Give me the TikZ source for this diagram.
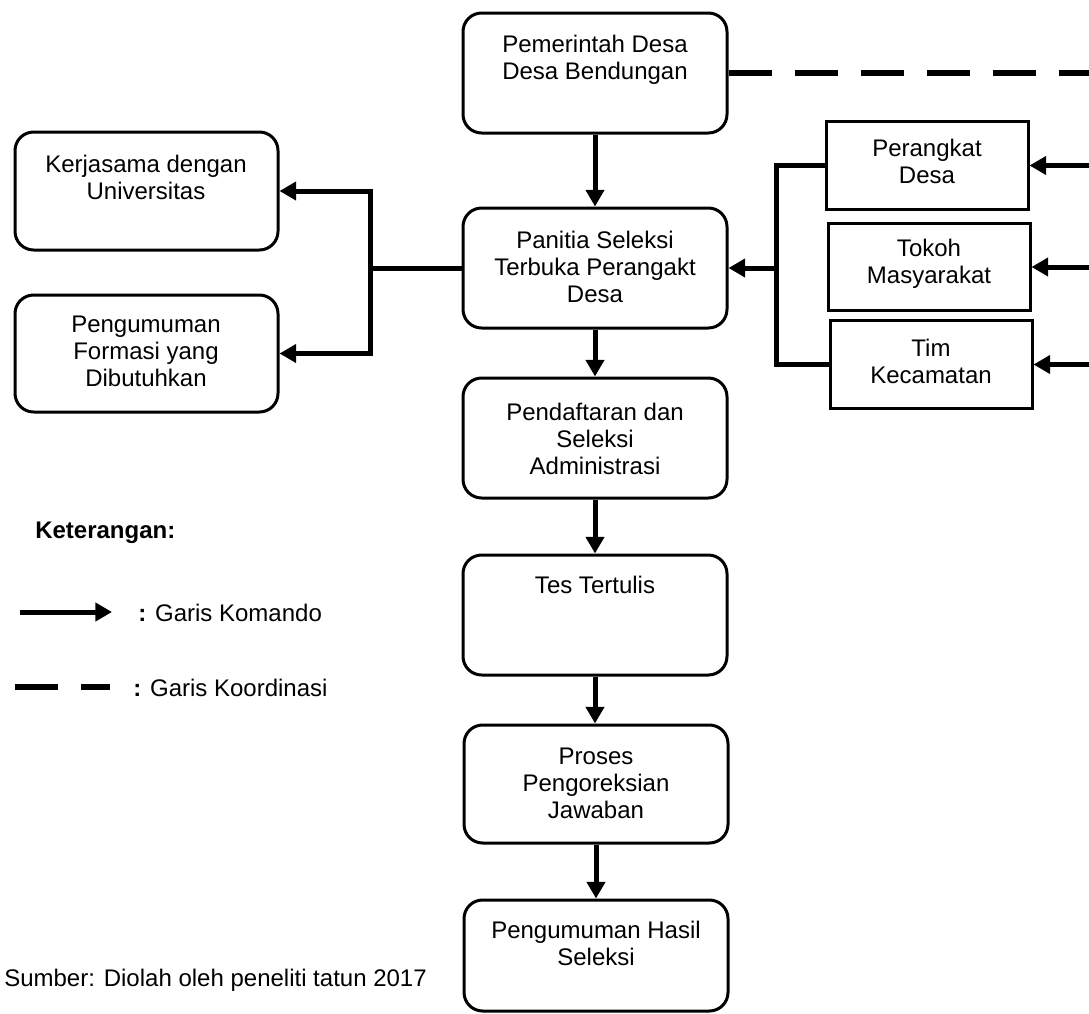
\documentclass[tikz,border=0pt]{standalone}
\usepackage{fontspec}
\setmainfont{Liberation Sans}
\usetikzlibrary{arrows.meta}
\begin{document}
\begin{tikzpicture}[x=0.75pt,y=-0.75pt,
  font=\fontsize{18pt}{20.25pt}\selectfont,
  rbox/.style={draw, line width=2.25pt, rounded corners=14pt, minimum width=198pt, inner sep=0pt},
  lbox/.style={draw, line width=2.25pt, rounded corners=14pt, minimum width=197.25pt, inner sep=0pt},
  sbox/.style={draw, line width=2.25pt, minimum width=151.5pt, minimum height=65.5pt, inner sep=0pt},
  txt/.style={align=center, inner sep=0pt},
  cmd/.style={line width=3.75pt, -{Triangle[length=12.5pt,width=13.5pt]}},
  link/.style={line width=3.75pt},
  koord/.style={line width=4.5pt, dash pattern=on 32.25pt off 17.25pt},
]
\useasboundingbox (0,0) rectangle (1089,1014);

% middle column boxes
\node[rbox, minimum height=90pt] (top) at (595,73) {};
\node[rbox, minimum height=90pt] (pan) at (595,268) {};
\node[rbox, minimum height=90pt] (daftar) at (595,438) {};
\node[rbox, minimum height=90pt] (tes) at (595,615) {};
\node[rbox, minimum height=88.5pt] (proses) at (596,784) {};
\node[rbox, minimum height=83.25pt] (hasil) at (596,955.5) {};

\node[txt] (top-t) at (595,60) {Pemerintah Desa\\Desa Bendungan};
\node[txt] (pan-t) at (595,267) {Panitia Seleksi\\Terbuka Perangakt\\Desa};
\node[txt] (daftar-t) at (595,439) {Pendaftaran dan\\Seleksi\\Administrasi};
\node[txt] (tes-t) at (595,585) {Tes Tertulis};
\node[txt] (proses-t) at (596,783) {Proses\\Pengoreksian\\Jawaban};
\node[txt] (hasil-t) at (596,943.5) {Pengumuman Hasil\\Seleksi};

% left boxes
\node[lbox, minimum height=88.5pt] (kerja) at (146.5,191) {};
\node[lbox, minimum height=87.75pt] (formasi) at (146.5,353.5) {};
\node[txt] (kerja-t) at (146,177) {Kerjasama dengan\\Universitas};
\node[txt] (formasi-t) at (146,351) {Pengumuman\\Formasi yang\\Dibutuhkan};

% right boxes
\node[sbox] (perangkat) at (927,165.5) {};
\node[sbox] (tokoh) at (929,267) {};
\node[sbox] (tim) at (931,364.5) {};
\node[txt] (perangkat-t) at (927,161) {Perangkat\\Desa};
\node[txt] (tokoh-t) at (929,264) {Tokoh\\Masyarakat};
\node[txt] (tim-t) at (931,361) {Tim\\Kecamatan};

% vertical flow
\draw[cmd] (top) -- (pan);
\draw[cmd] (pan) -- (daftar);
\draw[cmd] (daftar) -- (tes);
\draw[cmd] (tes.south) -- (tes.south |- proses.north);
\draw[cmd] (proses) -- (hasil);

% left branch
\coordinate (jl) at (370,268);
\draw[link] (pan.west) -- (jl);
\draw[cmd] (jl) |- (kerja.east);
\draw[cmd] (jl) |- (formasi.east);

% right branch
\coordinate (jr) at (776,268);
\draw[link] (perangkat.west) -| (jr) |- (tim.west);
\draw[cmd] (jr) -- (pan.east);

% incoming from the right edge
\coordinate (edge) at (1089,0);
\draw[cmd] (perangkat.east -| edge) -- (perangkat.east);
\draw[cmd] (tokoh.east -| edge) -- (tokoh.east);
\draw[cmd] (tim.east -| edge) -- (tim.east);

% coordination line
\draw[koord] (top.east) -- (top.east -| edge);

% legend
\node[anchor=base west, inner sep=0pt, font=\fontsize{18pt}{20.25pt}\selectfont\bfseries] (ket) at (35,538) {Keterangan:};
\coordinate (la1) at (20,612);
\coordinate (la2) at (112,612);
\draw[cmd] (la1) -- (la2);
\node[anchor=base west, inner sep=0pt] (la-t) at (138,621) {{\bfseries :} Garis Komando};
\coordinate (ld1) at (15,687);
\coordinate (ld2) at (110,687);
\draw[koord, line width=4pt] (ld1) -- (ld2);
\node[anchor=base west, inner sep=0pt] (ld-t) at (133,696) {{\bfseries :} Garis Koordinasi};

% source
\node[anchor=base west, inner sep=0pt] (src) at (4,986) {Sumber: Diolah oleh peneliti tatun 2017};
\end{tikzpicture}
\end{document}
